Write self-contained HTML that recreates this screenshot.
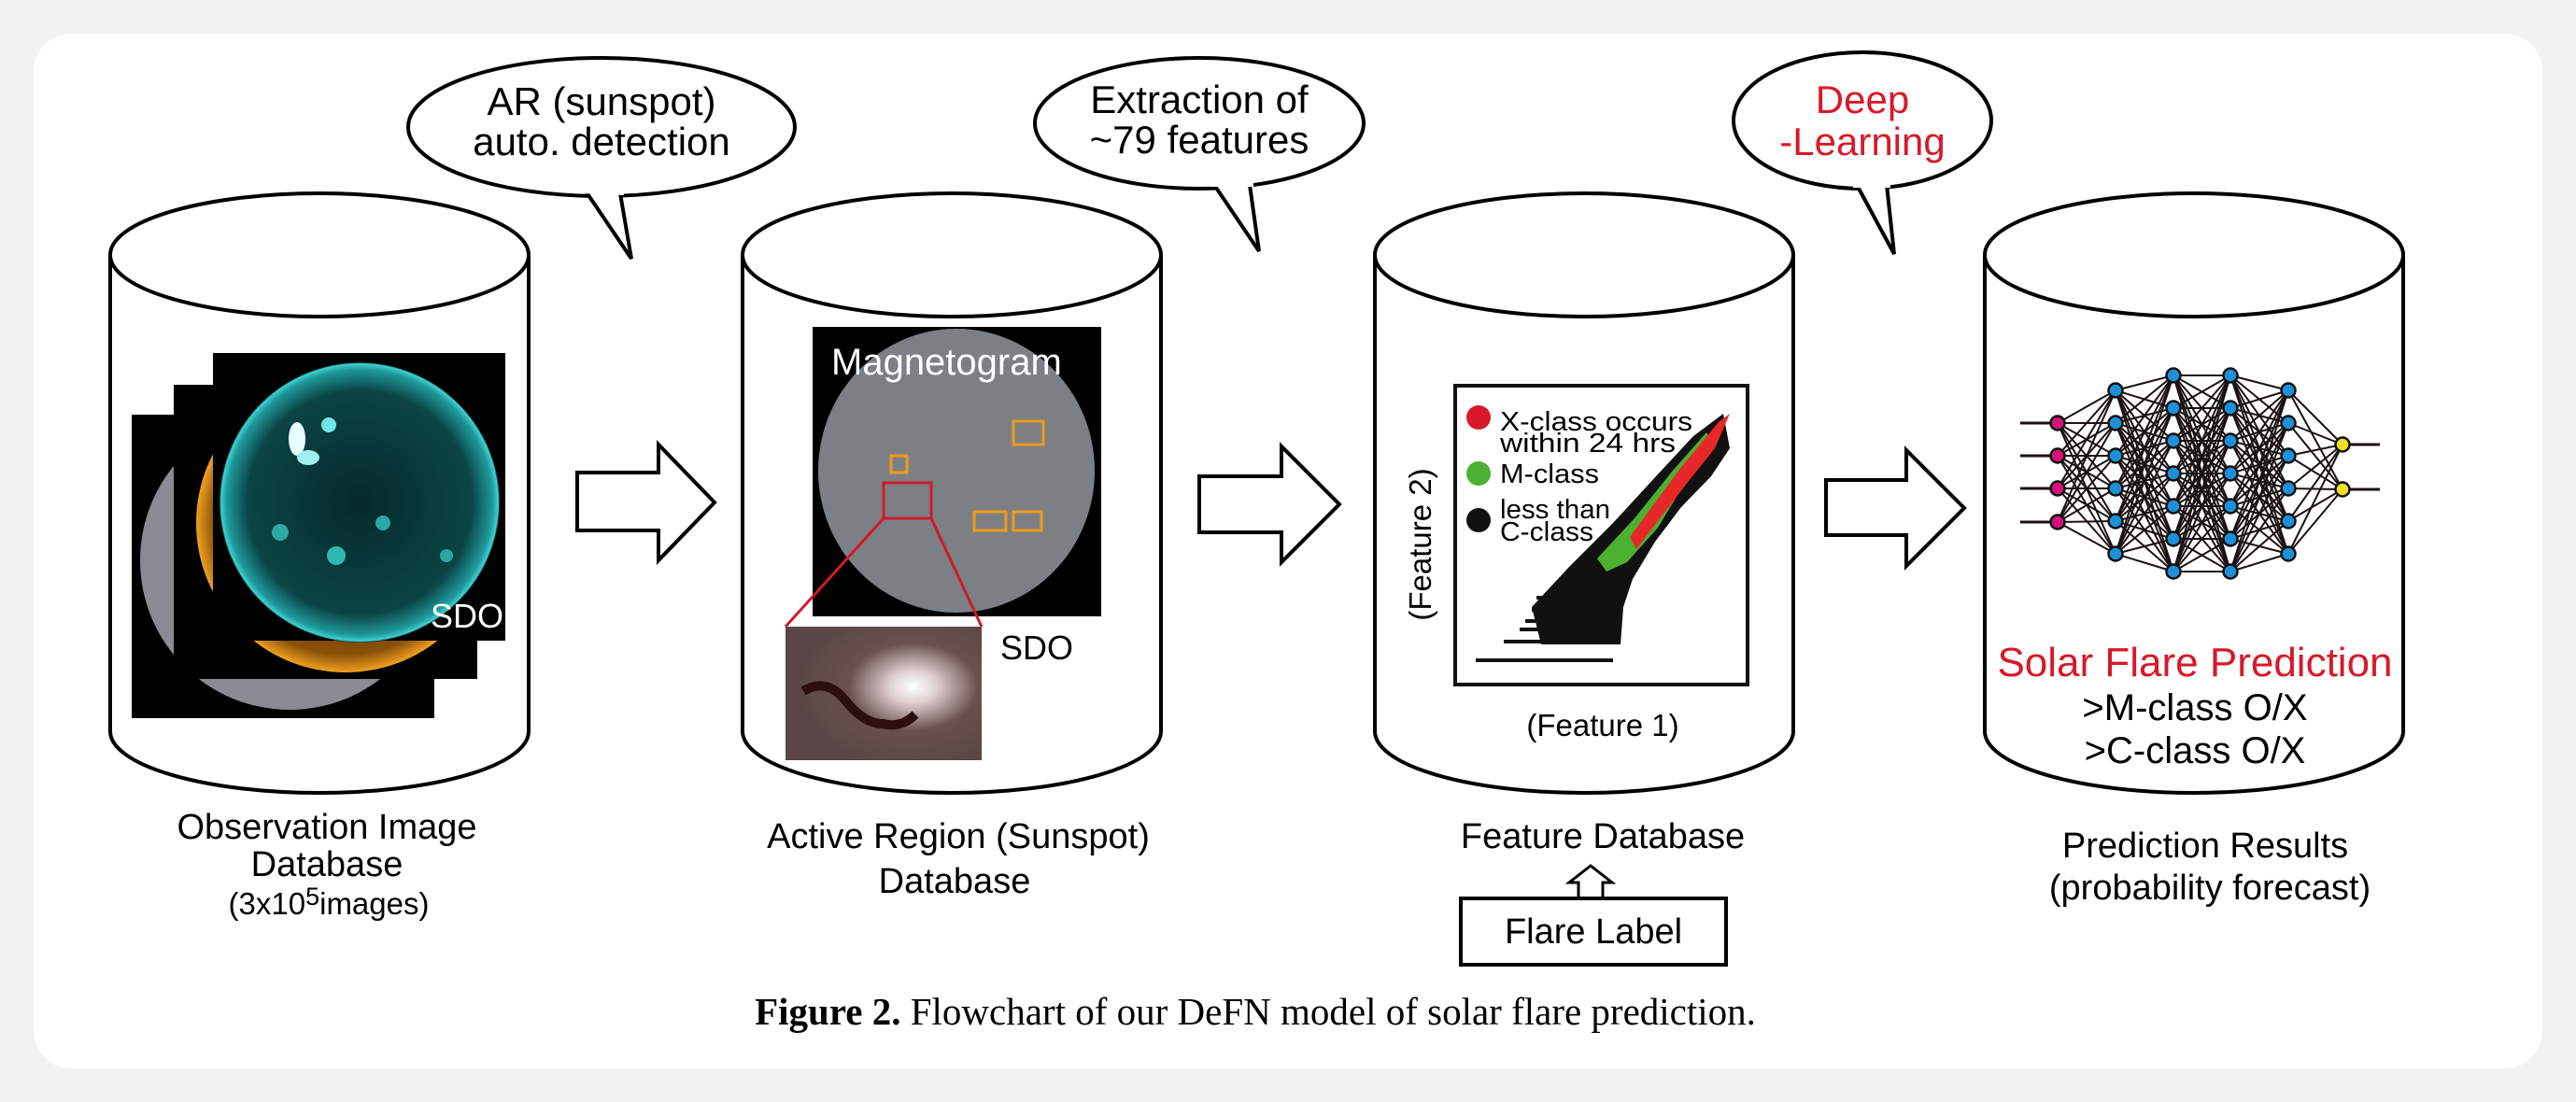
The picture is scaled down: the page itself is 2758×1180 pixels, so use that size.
<!DOCTYPE html>
<html><head><meta charset="utf-8">
<style>
html,body{margin:0;padding:0;background:#f2f2f2;}
svg{display:block;}
text{font-family:"Liberation Sans",sans-serif;}
</style></head>
<body>
<svg width="2758" height="1180" viewBox="0 0 2758 1180" xmlns="http://www.w3.org/2000/svg">
<defs>
<radialGradient id="teal" cx="50%" cy="50%" r="50%">
<stop offset="0" stop-color="#06292b"/><stop offset="0.8" stop-color="#0b4446"/><stop offset="0.95" stop-color="#1f9a9c"/><stop offset="0.99" stop-color="#3fd0d0"/><stop offset="1" stop-color="#041a1b"/>
</radialGradient>
<radialGradient id="orange" cx="50%" cy="50%" r="50%">
<stop offset="0" stop-color="#3a1e04"/><stop offset="0.88" stop-color="#8a5008"/><stop offset="1" stop-color="#f0a020"/>
</radialGradient>
<radialGradient id="inset" cx="65%" cy="45%" r="60%">
<stop offset="0" stop-color="#ffffff"/><stop offset="0.2" stop-color="#e0d0d0"/><stop offset="0.55" stop-color="#6a5050"/><stop offset="1" stop-color="#5a4646"/>
</radialGradient>
</defs>
<rect x="0" y="0" width="2758" height="1180" fill="#f2f2f2"/>
<rect x="36" y="36" width="2686" height="1108" rx="40" fill="#ffffff"/>

<g fill="#fff" stroke="#000" stroke-width="4">
<g>
<path d="M118,273 L118,783 A224,66 0 0 0 566,783 L566,273"/>
<ellipse cx="342" cy="273" rx="224" ry="66"/>
</g>
<g>
<path d="M795,273 L795,783 A224,66 0 0 0 1243,783 L1243,273"/>
<ellipse cx="1019" cy="273" rx="224" ry="66"/>
</g>
<g>
<path d="M1472,273 L1472,783 A224,66 0 0 0 1920,783 L1920,273"/>
<ellipse cx="1696" cy="273" rx="224" ry="66"/>
</g>
<g>
<path d="M2125,273 L2125,783 A224,66 0 0 0 2573,783 L2573,273"/>
<ellipse cx="2349" cy="273" rx="224" ry="66"/>
</g>
</g>

<g fill="#fff" stroke="#000" stroke-width="4">
<g>
<ellipse cx="644" cy="136" rx="207" ry="74"/>
<path d="M628,206 L676,277 L664,207" fill="#fff"/>
<path d="M620,204 L668,206" stroke="#fff" stroke-width="6"/>
</g>
<g>
<ellipse cx="1284" cy="132" rx="176" ry="70"/>
<path d="M1300,198 L1348,269 L1338,198" fill="#fff"/>
<path d="M1296,197 L1342,197" stroke="#fff" stroke-width="6"/>
</g>
<g>
<ellipse cx="1994" cy="129" rx="138" ry="73"/>
<path d="M1988,198 L2028,272 L2020,198" fill="#fff"/>
<path d="M1984,198 L2024,198" stroke="#fff" stroke-width="6"/>
</g>
</g>
<g font-size="42" text-anchor="middle">
<text x="644" y="123">AR (sunspot)</text>
<text x="644" y="166">auto. detection</text>
<text x="1284" y="121">Extraction of</text>
<text x="1284" y="164">~79 features</text>
<text x="1994" y="121" fill="#d7192a">Deep</text>
<text x="1994" y="166" fill="#d7192a">-Learning</text>
</g>

<g fill="#fff" stroke="#000" stroke-width="4">
<path d="M618,506 L705,506 L705,476 L765,538 L705,600 L705,568 L618,568 Z"/>
<path d="M1284,510 L1372,510 L1372,478 L1434,540 L1372,602 L1372,570 L1284,570 Z"/>
<path d="M1955,514 L2041,514 L2041,482 L2103,544 L2041,606 L2041,573 L1955,573 Z"/>
<path d="M1690,962 L1690,945 L1680,945 L1703,927 L1726,945 L1716,945 L1716,962" stroke-width="3"/>
</g>

<g>
<rect x="141" y="444" width="324" height="325" fill="#000"/>
<circle cx="310" cy="600" r="160" fill="#8a8a92"/>
<rect x="186" y="412" width="325" height="315" fill="#000"/>
<circle cx="370" cy="560" r="160" fill="url(#orange)"/>
<rect x="228" y="378" width="313" height="308" fill="#000"/>
<circle cx="385" cy="538" r="150" fill="url(#teal)"/>
<ellipse cx="318" cy="470" rx="9" ry="18" fill="#e8ffff"/>
<ellipse cx="330" cy="490" rx="12" ry="8" fill="#9ff0ee"/>
<circle cx="352" cy="455" r="8" fill="#6ee8e4"/>
<circle cx="360" cy="595" r="10" fill="#2fb8b2"/>
<circle cx="300" cy="570" r="9" fill="#2aa8a2"/>
<circle cx="410" cy="560" r="8" fill="#2aa8a2"/>
<circle cx="478" cy="595" r="7" fill="#2aa8a2"/>
<text x="500" y="672" fill="#fff" font-size="36" text-anchor="middle">SDO</text>
</g>

<g>
<rect x="870" y="350" width="309" height="310" fill="#000"/>
<ellipse cx="1024" cy="504" rx="148" ry="152" fill="#7c8084"/>
<text x="890" y="401" fill="#fff" font-size="40">Magnetogram</text>
<g fill="none" stroke="#f09a1a" stroke-width="3">
<rect x="954" y="488" width="17" height="18"/>
<rect x="1085" y="451" width="32" height="25"/>
<rect x="1043" y="548" width="34" height="20"/>
<rect x="1085" y="548" width="30" height="20"/>
</g>
<rect x="946" y="517" width="51" height="38" fill="none" stroke="#d01a2a" stroke-width="3"/>
<path d="M946,555 L841,671 M997,555 L1051,671" stroke="#d01a2a" stroke-width="3"/>
<rect x="841" y="671" width="210" height="143" fill="url(#inset)"/>
<path d="M860,740 q25,-15 45,10 t40,25 q20,5 35,-10" stroke="#2a1010" stroke-width="10" fill="none"/>
<text x="1071" y="706" font-size="36">SDO</text>
</g>

<g>
<rect x="1558" y="413" width="313" height="320" fill="#fff" stroke="#111" stroke-width="4"/>
<polygon points="1640,650 1680,607 1727,560 1773,510 1813,467 1845,443 1852,480 1832,510 1800,543 1772,580 1748,620 1738,650 1735,690 1650,690" fill="#111"/>
<g stroke="#111" stroke-width="4">
<line x1="1645" y1="640" x2="1740" y2="640"/>
<line x1="1640" y1="653" x2="1735" y2="653"/>
<line x1="1633" y1="665" x2="1735" y2="665"/>
<line x1="1627" y1="674" x2="1730" y2="674"/>
<line x1="1610" y1="687" x2="1730" y2="687"/>
<line x1="1580" y1="707" x2="1727" y2="707"/>
</g>
<polygon points="1710,598 1750,555 1790,505 1827,463 1836,478 1807,512 1775,565 1742,602 1720,612" fill="#4cb030"/>
<polygon points="1745,575 1800,500 1840,452 1852,443 1836,480 1808,515 1775,558 1752,588" fill="#e82828"/>
<circle cx="1583" cy="447" r="13" fill="#d7192a"/>
<circle cx="1583" cy="507" r="13" fill="#4cb030"/>
<circle cx="1583" cy="557" r="13" fill="#111"/>
<g font-size="29">
<text x="1606" y="461" textLength="206" lengthAdjust="spacingAndGlyphs">X-class occurs</text>
<text x="1606" y="484" textLength="188" lengthAdjust="spacingAndGlyphs">within 24 hrs</text>
<text x="1606" y="517" textLength="106" lengthAdjust="spacingAndGlyphs">M-class</text>
<text x="1606" y="555" textLength="118" lengthAdjust="spacingAndGlyphs">less than</text>
<text x="1606" y="579" textLength="100" lengthAdjust="spacingAndGlyphs">C-class</text>
</g>
<text x="0" y="0" font-size="33" text-anchor="middle" transform="translate(1532,583) rotate(-90)">(Feature 2)</text>
<text x="1716" y="788" font-size="33" text-anchor="middle">(Feature 1)</text>
</g>

<g id="nn"></g>
<g font-size="44" text-anchor="middle">
<text x="2350" y="724" fill="#d7192a">Solar Flare Prediction</text>
<text x="2350" y="771" font-size="40">&gt;M-class O/X</text>
<text x="2350" y="817" font-size="40">&gt;C-class O/X</text>
</g>

<g font-size="38" text-anchor="middle">
<text x="350" y="898">Observation Image</text>
<text x="350" y="938">Database</text>
<text x="352" y="979" font-size="33">(3x10<tspan dy="-10" font-size="27">5</tspan><tspan dy="10">images)</tspan></text>
<text x="1026" y="908">Active Region (Sunspot)</text>
<text x="1022" y="956">Database</text>
<text x="1716" y="908">Feature Database</text>
<text x="2361" y="918">Prediction Results</text>
<text x="2366" y="963">(probability forecast)</text>
</g>
<rect x="1564" y="962" width="284" height="71" fill="#fff" stroke="#000" stroke-width="4"/>
<text x="1706" y="1010" font-size="38" text-anchor="middle">Flare Label</text>

<text x="1344" y="1097" font-size="41" text-anchor="middle" style="font-family:'Liberation Serif',serif"><tspan font-weight="bold">Figure 2.</tspan> Flowchart of our DeFN model of solar flare prediction.</text>
</svg>
<script>
const layerX = [2203, 2265, 2327, 2388, 2450, 2508];
const layerY = [
  [453, 488, 523, 559],
  [418, 453, 488, 523, 558, 593],
  [402, 437, 472, 507, 542, 577, 612],
  [402, 437, 472, 507, 542, 577, 612],
  [418, 453, 488, 523, 558, 593],
  [476, 524]
];
const layerColor = ['#d4137a', '#1e90d8', '#1e90d8', '#1e90d8', '#1e90d8', '#f0e020'];
const NS = 'http://www.w3.org/2000/svg';
const nn = document.getElementById('nn');
function mk(tag, attrs) { const e = document.createElementNS(NS, tag); for (const k in attrs) e.setAttribute(k, attrs[k]); return e; }
for (let l = 0; l < layerX.length - 1; l++) {
  for (const y1 of layerY[l]) for (const y2 of layerY[l + 1]) {
    const ln = mk('line', {x1: layerX[l], y1: y1, x2: layerX[l + 1], y2: y2, stroke: '#1a1212', 'stroke-width': 2});
    
    
    nn.appendChild(ln);
  }
}
for (const y of layerY[0]) {
  const ln = mk('line', {x1: 2163, y1: y, x2: layerX[0], y2: y, stroke: '#1a1212', 'stroke-width': 3});
  
  
  nn.appendChild(ln);
}
for (const y of layerY[5]) {
  const ln = mk('line', {x1: layerX[5], y1: y, x2: 2548, y2: y, stroke: '#1a1212', 'stroke-width': 3});
  
  
  nn.appendChild(ln);
}
for (let l = 0; l < layerX.length; l++) {
  for (const y of layerY[l]) {
    const c = mk('circle', {cx: layerX[l], cy: y, r: 7.5, fill: layerColor[l], stroke: '#111', 'stroke-width': 2.5});
    
    
    nn.appendChild(c);
  }
}
</script>
</body></html>
